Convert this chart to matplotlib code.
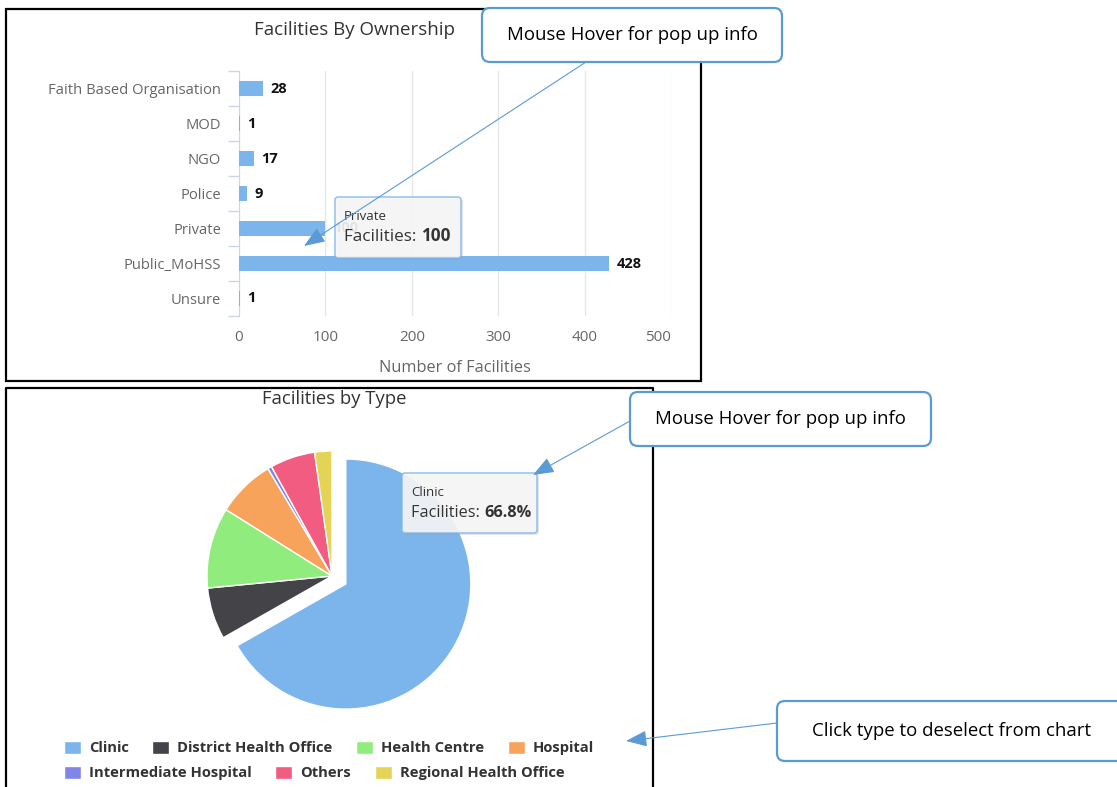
import numpy as np
import matplotlib
matplotlib.use("Agg")
import matplotlib.pyplot as plt
from matplotlib.patches import FancyBboxPatch, Rectangle

# === DATA ===
owners = ['Faith Based Organisation', 'MOD', 'NGO', 'Police', 'Private', 'Public_MoHSS', 'Unsure']
owner_counts = [28, 1, 17, 9, 100, 428, 1]
x_ticks = [0, 100, 200, 300, 400, 500]

types = ['Clinic', 'District Health Office', 'Health Centre', 'Hospital',
         'Intermediate Hospital', 'Others', 'Regional Health Office']
type_counts = [390, 39, 61, 44, 3, 34, 13]
type_colors = ['#7cb5ec', '#434348', '#90ed7d', '#f7a35c', '#8085e9', '#f15c80', '#e4d354']

# === FIGURE (pixel helpers) ===
W, H = 1117, 787
plt.rcParams['font.family'] = ['Open Sans', 'DejaVu Sans']
fig = plt.figure(figsize=(W / 100, H / 100), dpi=100)


def box(x0, y0, x1, y1):
    return [x0 / W, 1 - y1 / H, (x1 - x0) / W, (y1 - y0) / H]


# === BAR CHART: Facilities By Ownership ===
ax1 = fig.add_axes(box(239, 71, 671, 316))
ypos = np.arange(len(owners))
ax1.barh(ypos, owner_counts, height=0.43, color='#7cb5ec', zorder=3)
ax1.set_xlim(0, 500)
ax1.set_ylim(len(owners) - 0.5, -0.5)
for yy, v in zip(ypos, owner_counts):
    ax1.annotate(str(v), (v, yy), xytext=(5.5, 0), textcoords='offset points',
                 va='center', ha='left', fontsize=10.5, fontweight='bold', color='#111', zorder=4)

ax1.set_xticks(x_ticks)
ax1.grid(axis='x', color='#e6e6e6', lw=1)
ax1.set_axisbelow(True)
ax1.tick_params(axis='x', length=0, pad=10, labelsize=11, labelcolor='#666')
ax1.get_xticklabels()[-1].set_ha('right')
for s in ['top', 'right', 'bottom']:
    ax1.spines[s].set_visible(False)
ax1.spines['left'].set_color('#ccd6eb')
ax1.set_yticks(np.arange(-0.5, len(owners), 1))
ax1.set_yticklabels([])
ax1.tick_params(axis='y', which='major', length=8, color='#ccd6eb', width=1)
ax1.set_yticks(ypos, minor=True)
ax1.set_yticklabels(owners, minor=True)
ax1.tick_params(axis='y', which='minor', length=0, pad=13, labelsize=10.6, labelcolor='#666')
ax1.set_xlabel('Number of Facilities', fontsize=11.8, color='#666', labelpad=11)

# === PIE CHART: Facilities by Type ===
ax2 = fig.add_axes(box(332 - 150, 576 - 150, 332 + 150, 576 + 150))
explode = [0.128] + [0] * (len(types) - 1)
wedges, _ = ax2.pie(type_counts, colors=type_colors, startangle=90, counterclock=False,
                    explode=explode, wedgeprops=dict(edgecolor='white', linewidth=1))
ax2.set_xlim(-1.2, 1.2)
ax2.set_ylim(-1.2, 1.2)

leg_kw = dict(loc='center left', frameon=False, borderpad=0, borderaxespad=0,
              handlelength=1.15, handleheight=1.0, handletextpad=0.55, columnspacing=1.6,
              prop=dict(family='Open Sans', weight='bold', size=10.6), labelcolor='#333')
fig.legend(wedges[:4], types[:4], ncol=4, bbox_to_anchor=(64 / W, 1 - 748 / H), **leg_kw)
fig.legend(wedges[4:], types[4:], ncol=3, bbox_to_anchor=(64 / W, 1 - 773 / H), **leg_kw)

# === OVERLAY: frames, titles, tooltips, callouts ===
ov = fig.add_axes([0, 0, 1, 1])
ov.set_xlim(0, W)
ov.set_ylim(H, 0)
ov.axis('off')

ov.add_patch(Rectangle((6, 9), 695, 372, fill=False, ec='black', lw=1.6))
ov.plot([6, 6, 653, 653], [795, 388, 388, 795], color='black', lw=1.6)

ov.text(355, 30, 'Facilities By Ownership', ha='center', va='center', fontsize=13.5, color='#333')
ov.text(334, 399, 'Facilities by Type', ha='center', va='center', fontsize=13.3, color='#333')


def tooltip(x0, y0, w, h, head, label, value, size):
    ov.add_patch(FancyBboxPatch((x0 + 2, y0 + 2), w, h, boxstyle='round,pad=0,rounding_size=3',
                                fc='#999', ec='none', alpha=0.25, zorder=5))
    ov.add_patch(FancyBboxPatch((x0, y0), w, h, boxstyle='round,pad=0,rounding_size=3',
                                fc='#f7f7f7', ec='#7cb5ec', lw=1, alpha=0.9, zorder=6))
    ov.text(x0 + 9, y0 + 20, head, fontsize=9.5, color='#333', va='center', zorder=7)
    t = ov.text(x0 + 9, y0 + 40, label, fontsize=size, color='#333', va='center', zorder=7)
    ov.annotate(value, xy=(1, 0), xycoords=t, va='bottom', ha='left', fontsize=size,
                fontweight='bold', color='#333', zorder=7)


tooltip(335, 197, 126, 61, 'Private', 'Facilities: ', '100', 12.3)
tooltip(402, 473, 135, 60, 'Clinic', 'Facilities: ', '66.8%', 11.7)

blue = '#5b9bd5'
arrow = dict(arrowstyle='-|>,head_length=1.3,head_width=0.5', mutation_scale=10,
             color=blue, lw=0.8, shrinkA=0, shrinkB=0)


def callout(x0, y0, x1, y1, text, tx, start, tip):
    ov.annotate('', xy=tip, xytext=start, arrowprops=arrow, zorder=8)
    ov.add_patch(FancyBboxPatch((x0, y0), x1 - x0, y1 - y0, boxstyle='round,pad=0,rounding_size=8',
                                fc='white', ec=blue, lw=1.6, zorder=9))
    ov.text(tx, (y0 + y1) / 2, text, ha='center', va='center', fontsize=13.4,
            color='black', zorder=10)


callout(482, 8, 782, 62, 'Mouse Hover for pop up info', 632, (586, 62), (304, 246))
callout(630, 392, 931, 446, 'Mouse Hover for pop up info', 780, (630, 421), (533, 475))
callout(777, 701, 1125, 761, 'Click type to deselect from chart', 952, (777, 723), (626, 741))

fig.savefig('out.png', dpi=100)
